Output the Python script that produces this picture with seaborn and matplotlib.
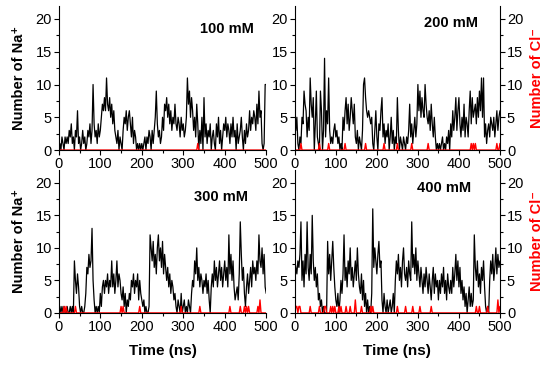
import numpy as np
import seaborn as sns
import matplotlib.pyplot as plt
from matplotlib.ticker import MultipleLocator

sns.set_style('ticks')
plt.rcParams['font.family'] = ['Liberation Sans', 'DejaVu Sans']
plt.rcParams.update({'text.color': 'black', 'axes.labelcolor': 'black',
                     'xtick.color': 'black', 'ytick.color': 'black',
                     'axes.edgecolor': 'black'})

# sampled every 2.5 ns, 0..500 ns
step = 2.5

na_100 = [0, 1, 0, 2, 1, 0, 2, 1, 2, 1, 3, 2, 4, 1, 2, 0, 3, 2, 6, 1,
          2, 0, 1, 3, 1, 2, 0, 1, 3, 2, 4, 1, 3, 10, 4, 2, 3, 1, 4, 2,
          3, 5, 7, 6, 8, 6, 11, 7, 6, 8, 5, 7, 4, 6, 3, 2, 1, 3, 0, 2,
          1, 0, 3, 5, 4, 6, 3, 5, 6, 4, 2, 5, 1, 3, 2, 0, 1, 0, 1, 0,
          1, 0, 1, 2, 0, 2, 1, 3, 2, 0, 3, 1, 3, 5, 9, 4, 2, 3, 1, 2,
          5, 3, 7, 6, 8, 5, 7, 4, 6, 3, 5, 4, 7, 4, 3, 5, 4, 2, 5, 3,
          4, 2, 3, 5, 11, 7, 9, 5, 8, 6, 3, 5, 2, 7, 4, 0, 3, 1, 5, 0,
          8, 2, 4, 1, 3, 2, 4, 0, 2, 3, 1, 0, 4, 2, 5, 1, 3, 0, 2, 4,
          3, 5, 2, 4, 3, 1, 4, 2, 5, 2, 3, 0, 4, 1, 2, 3, 5, 2, 0, 3,
          1, 4, 2, 3, 6, 3, 5, 4, 6, 5, 3, 7, 4, 9, 5, 6, 1, 0, 1, 10,
          10]

na_200 = [6, 3, 5, 1, 0, 2, 1, 5, 4, 9, 7, 6, 2, 5, 3, 11, 7, 5, 8, 0,
          4, 9, 2, 1, 0, 9, 6, 0, 3, 14, 2, 6, 4, 11, 3, 1, 2, 1, 3, 4,
          2, 3, 1, 2, 0, 1, 0, 5, 3, 6, 8, 4, 7, 3, 5, 8, 6, 4, 7, 2,
          1, 3, 0, 2, 1, 0, 3, 10, 11, 8, 6, 5, 6, 5, 4, 5, 1, 0, 3, 6,
          2, 0, 4, 3, 6, 8, 2, 4, 1, 3, 2, 4, 0, 2, 5, 1, 3, 0, 2, 1,
          8, 3, 0, 2, 1, 0, 2, 1, 0, 2, 1, 3, 7, 2, 4, 1, 3, 5, 2, 4,
          10, 6, 9, 5, 8, 6, 5, 10, 7, 5, 4, 6, 3, 7, 4, 2, 5, 2, 0, 1,
          0, 1, 0, 1, 2, 0, 1, 0, 2, 1, 3, 0, 4, 2, 6, 3, 5, 8, 3, 6,
          8, 4, 2, 5, 3, 7, 2, 5, 4, 2, 6, 9, 4, 8, 5, 6, 7, 4, 8, 5,
          9, 6, 11, 5, 11, 2, 4, 1, 3, 4, 2, 5, 4, 3, 5, 2, 4, 6, 3, 5,
          6]

na_300 = [0, 1, 0, 1, 0, 1, 0, 0, 1, 0, 0, 1, 0, 1, 0, 8, 5, 3, 6, 4,
          1, 0, 1, 0, 0, 1, 3, 7, 6, 9, 7, 8, 13, 5, 2, 0, 1, 0, 1, 0,
          3, 1, 4, 5, 3, 5, 4, 6, 3, 5, 4, 8, 4, 6, 3, 5, 8, 4, 6, 5,
          3, 2, 4, 1, 3, 0, 2, 1, 3, 2, 5, 4, 6, 3, 5, 4, 6, 2, 5, 3,
          2, 1, 2, 0, 1, 0, 0, 1, 12, 10, 8, 11, 7, 9, 6, 10, 12, 8, 10, 7,
          11, 6, 9, 7, 5, 7, 4, 6, 3, 5, 4, 2, 3, 1, 0, 2, 1, 0, 3, 0,
          1, 2, 0, 1, 0, 2, 1, 0, 3, 5, 4, 8, 6, 10, 5, 7, 4, 6, 5, 3,
          5, 4, 6, 3, 5, 2, 0, 4, 6, 4, 8, 5, 7, 4, 6, 8, 5, 7, 4, 6,
          8, 5, 7, 4, 12, 6, 9, 5, 8, 4, 2, 3, 4, 2, 6, 14, 9, 5, 7, 3,
          1, 4, 6, 3, 5, 7, 4, 8, 6, 7, 5, 8, 6, 12, 8, 7, 10, 6, 9, 4,
          3]

na_400 = [8, 7, 6, 8, 7, 9, 14, 5, 8, 4, 9, 6, 14, 7, 5, 9, 6, 15, 8, 5,
          7, 4, 6, 2, 3, 1, 2, 0, 1, 0, 0, 0, 11, 6, 9, 5, 8, 11, 7, 4,
          2, 1, 3, 0, 2, 5, 3, 6, 12, 5, 7, 4, 8, 6, 10, 5, 7, 4, 6, 8,
          5, 10, 6, 4, 3, 6, 2, 5, 1, 3, 0, 2, 0, 1, 0, 3, 16, 7, 10, 8,
          6, 9, 11, 7, 8, 2, 0, 3, 1, 0, 2, 0, 1, 2, 0, 1, 3, 0, 5, 8,
          6, 9, 5, 7, 4, 8, 10, 6, 5, 7, 4, 8, 6, 5, 14, 7, 9, 6, 10, 5,
          8, 6, 4, 7, 5, 3, 6, 4, 7, 5, 3, 6, 4, 2, 5, 7, 3, 6, 4, 5,
          2, 5, 3, 6, 4, 7, 3, 5, 2, 6, 4, 3, 5, 3, 7, 4, 6, 9, 5, 8,
          4, 7, 3, 5, 2, 4, 1, 3, 0, 2, 4, 1, 3, 1, 2, 12, 7, 5, 8, 4,
          6, 3, 7, 5, 8, 4, 1, 0, 1, 0, 5, 8, 6, 9, 5, 7, 10, 6, 9, 7,
          8]

# Cl- events: time (ns) and count, zero elsewhere
cl_100_t = [335]
cl_100_v = [1]
cl_200_t = [15, 60, 82.5, 122.5, 172.5, 217.5, 250, 285, 325, 430, 435, 440, 492.5, 500]
cl_200_v = [1] * len(cl_200_t)
cl_300_t = [12.5, 17.5, 40, 150, 155, 195, 295, 340, 412.5, 437.5, 447.5, 452.5, 457.5, 480, 485]
cl_300_v = [1, 1, 1, 1, 1, 1, 1, 1, 1, 1, 1, 1, 1, 1, 2]
cl_400_t = [2.5, 5, 10, 12.5, 37.5, 60, 72.5, 75, 87.5, 92.5, 97.5, 107.5, 112.5, 125, 135,
            147.5, 162.5, 185, 190, 250, 270, 287.5, 305, 332.5, 442.5, 450, 470, 495, 500]
cl_400_v = [1] * 15 + [2] + [1] * 11 + [2, 1]

labels = ['100 mM', '200 mM', '300 mM', '400 mM']
na_all = [na_100, na_200, na_300, na_400]
cl_all = [(cl_100_t, cl_100_v), (cl_200_t, cl_200_v), (cl_300_t, cl_300_v), (cl_400_t, cl_400_v)]


def cl_series(times, vals, n):
    s = np.zeros(n)
    for t, v in zip(times, vals):
        s[int(round(t / step))] = v
    return s


def style_ticks(a):
    a.tick_params(which='major', direction='out', length=3.5, width=0.8, labelsize=10.5, pad=1.5)
    a.tick_params(which='minor', direction='out', length=2, width=0.8)


fig = plt.figure(figsize=(5.5, 3.66), dpi=100)
rects = [
    [0.107, 0.590, 0.377, 0.394],
    [0.536, 0.590, 0.373, 0.394],
    [0.107, 0.145, 0.377, 0.391],
    [0.536, 0.145, 0.373, 0.391],
]
text_xy = [(405, 18.5), (380, 19.4), (390, 17.8), (365, 19.2)]

for i in range(4):
    ax = fig.add_axes(rects[i])
    na = np.array(na_all[i])
    t = np.arange(len(na)) * step
    cl = cl_series(*cl_all[i], len(na))

    sns.lineplot(x=t, y=na, ax=ax, color='black', lw=0.9, estimator=None, sort=False)
    sns.lineplot(x=t, y=cl, ax=ax, color='red', lw=1.0, estimator=None, sort=False)

    ax.set_xlim(0, 500)
    ax.set_ylim(0, 22)
    ax.xaxis.set_major_locator(MultipleLocator(100))
    ax.xaxis.set_minor_locator(MultipleLocator(50))
    ax.yaxis.set_major_locator(MultipleLocator(5))
    ax.yaxis.set_minor_locator(MultipleLocator(2.5))
    style_ticks(ax)
    ax.spines['top'].set_visible(False)
    ax.spines['right'].set_visible(False)
    for s in ['left', 'bottom']:
        ax.spines[s].set_linewidth(0.8)

    ax.text(*text_xy[i], labels[i], fontsize=10.5, fontweight='bold', ha='center', va='center')

    if i >= 2:
        ax.set_xlabel('Time (ns)', fontsize=11, fontweight='bold', labelpad=7)
    else:
        ax.set_xlabel('')

    if i % 2 == 0:
        ax.set_ylabel('Number of Na\u207a', fontsize=10.5, fontweight='bold', labelpad=7)
    else:
        ax.set_ylabel('')
        ax2 = ax.twinx()
        ax2.set_ylim(0, 22)
        ax2.yaxis.set_major_locator(MultipleLocator(5))
        ax2.yaxis.set_minor_locator(MultipleLocator(2.5))
        style_ticks(ax2)
        ax2.spines['top'].set_visible(False)
        ax2.spines['left'].set_visible(False)
        ax2.spines['bottom'].set_visible(False)
        ax2.spines['right'].set_linewidth(0.8)
        ax2.set_ylabel('Number of Cl\u207b', fontsize=10.5, fontweight='bold', color='red', labelpad=5)

fig.savefig('out.png', dpi=100)
